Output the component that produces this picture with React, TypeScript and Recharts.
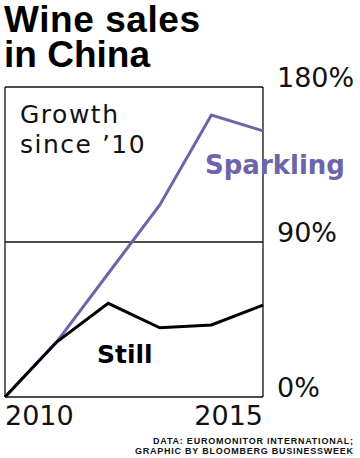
import { LineChart, Line, XAxis, YAxis, CartesianGrid } from "recharts"

// growth in wine sales since 2010, percent
const years = [2010, 2011, 2012, 2013, 2014, 2015]
const still = [0, 31.9, 54.4, 40.2, 41.8, 53.4]
const sparkling = [0, 31.9, 71.7, 111.5, 163.7, 154.5]

const yTicks = [0, 90, 180]
const xTicks = [2010, 2015]

const PURPLE = "#6e64a9"
const SANS = "'DejaVu Sans', sans-serif"
const HELV = "'Liberation Sans', Arial, sans-serif"

const data = years.map((year, i) => ({
  year,
  still: still[i],
  sparkling: sparkling[i]
}))

function YTick(props: any) {
  const { x, y, payload } = props
  return (
    <text x={x} y={y} textAnchor="start" fontFamily={SANS} fontSize={27} fill="#111">
      {payload.value}%
    </text>
  )
}

function XTick(props: any) {
  const { x, y, payload } = props
  const last = payload.value === xTicks[xTicks.length - 1]
  return (
    <text
      x={x}
      y={y + 28}
      textAnchor={last ? "end" : "start"}
      fontFamily={SANS}
      fontSize={27}
      fill="#111"
    >
      {payload.value}
    </text>
  )
}

export default function App() {
  return (
    <div
      style={{
        position: "fixed",
        top: 0,
        left: 0,
        width: 360,
        height: 458,
        background: "#fff"
      }}
    >
      <LineChart
        width={360}
        height={458}
        data={data}
        margin={{ top: 87, right: 0, left: 5, bottom: 0 }}
      >
        <CartesianGrid stroke="#111" strokeWidth={1.3} />

        <XAxis
          dataKey="year"
          type="number"
          domain={[2010, 2015]}
          ticks={xTicks}
          interval={0}
          height={61}
          tickSize={0}
          tickMargin={0}
          axisLine={false}
          tickLine={false}
          tick={<XTick />}
        />

        <YAxis
          orientation="right"
          domain={[0, 180]}
          ticks={yTicks}
          interval={0}
          width={97}
          tickSize={0}
          tickMargin={14}
          axisLine={false}
          tickLine={false}
          tick={<YTick />}
        />

        <Line
          dataKey="sparkling"
          stroke={PURPLE}
          strokeWidth={3}
          dot={false}
          strokeLinejoin="miter"
          isAnimationActive={false}
        />
        <Line
          dataKey="still"
          stroke="#000"
          strokeWidth={3}
          dot={false}
          strokeLinejoin="miter"
          isAnimationActive={false}
        />
      </LineChart>

      <svg
        width={360}
        height={458}
        style={{ position: "absolute", top: 0, left: 0, pointerEvents: "none" }}
      >
        <text x={4} y={32} fontFamily={HELV} fontWeight={700} fontSize={37} textLength={196} fill="#000">
          Wine sales
        </text>
        <text x={4} y={67} fontFamily={HELV} fontWeight={700} fontSize={37} textLength={146} fill="#000">
          in China
        </text>

        <text x={20} y={123} fontFamily={SANS} fontSize={25} letterSpacing={1.5} fill="#111">
          Growth
        </text>
        <text x={20} y={153} fontFamily={SANS} fontSize={25} letterSpacing={1.5} fill="#111">
          since ’10
        </text>

        <text x={205} y={174} fontFamily={SANS} fontWeight={700} fontSize={26} fill={PURPLE}>
          Sparkling
        </text>
        <text x={97} y={363} fontFamily={SANS} fontWeight={700} fontSize={25} fill="#000">
          Still
        </text>

        <text x={353} y={443.5} textAnchor="end" fontFamily={HELV} fontWeight={700} fontSize={9} textLength={200} fill="#111">
          DATA: EUROMONITOR INTERNATIONAL;
        </text>
        <text x={353} y={453.5} textAnchor="end" fontFamily={HELV} fontWeight={700} fontSize={9} textLength={218} fill="#111">
          GRAPHIC BY BLOOMBERG BUSINESSWEEK
        </text>
      </svg>
    </div>
  )
}
